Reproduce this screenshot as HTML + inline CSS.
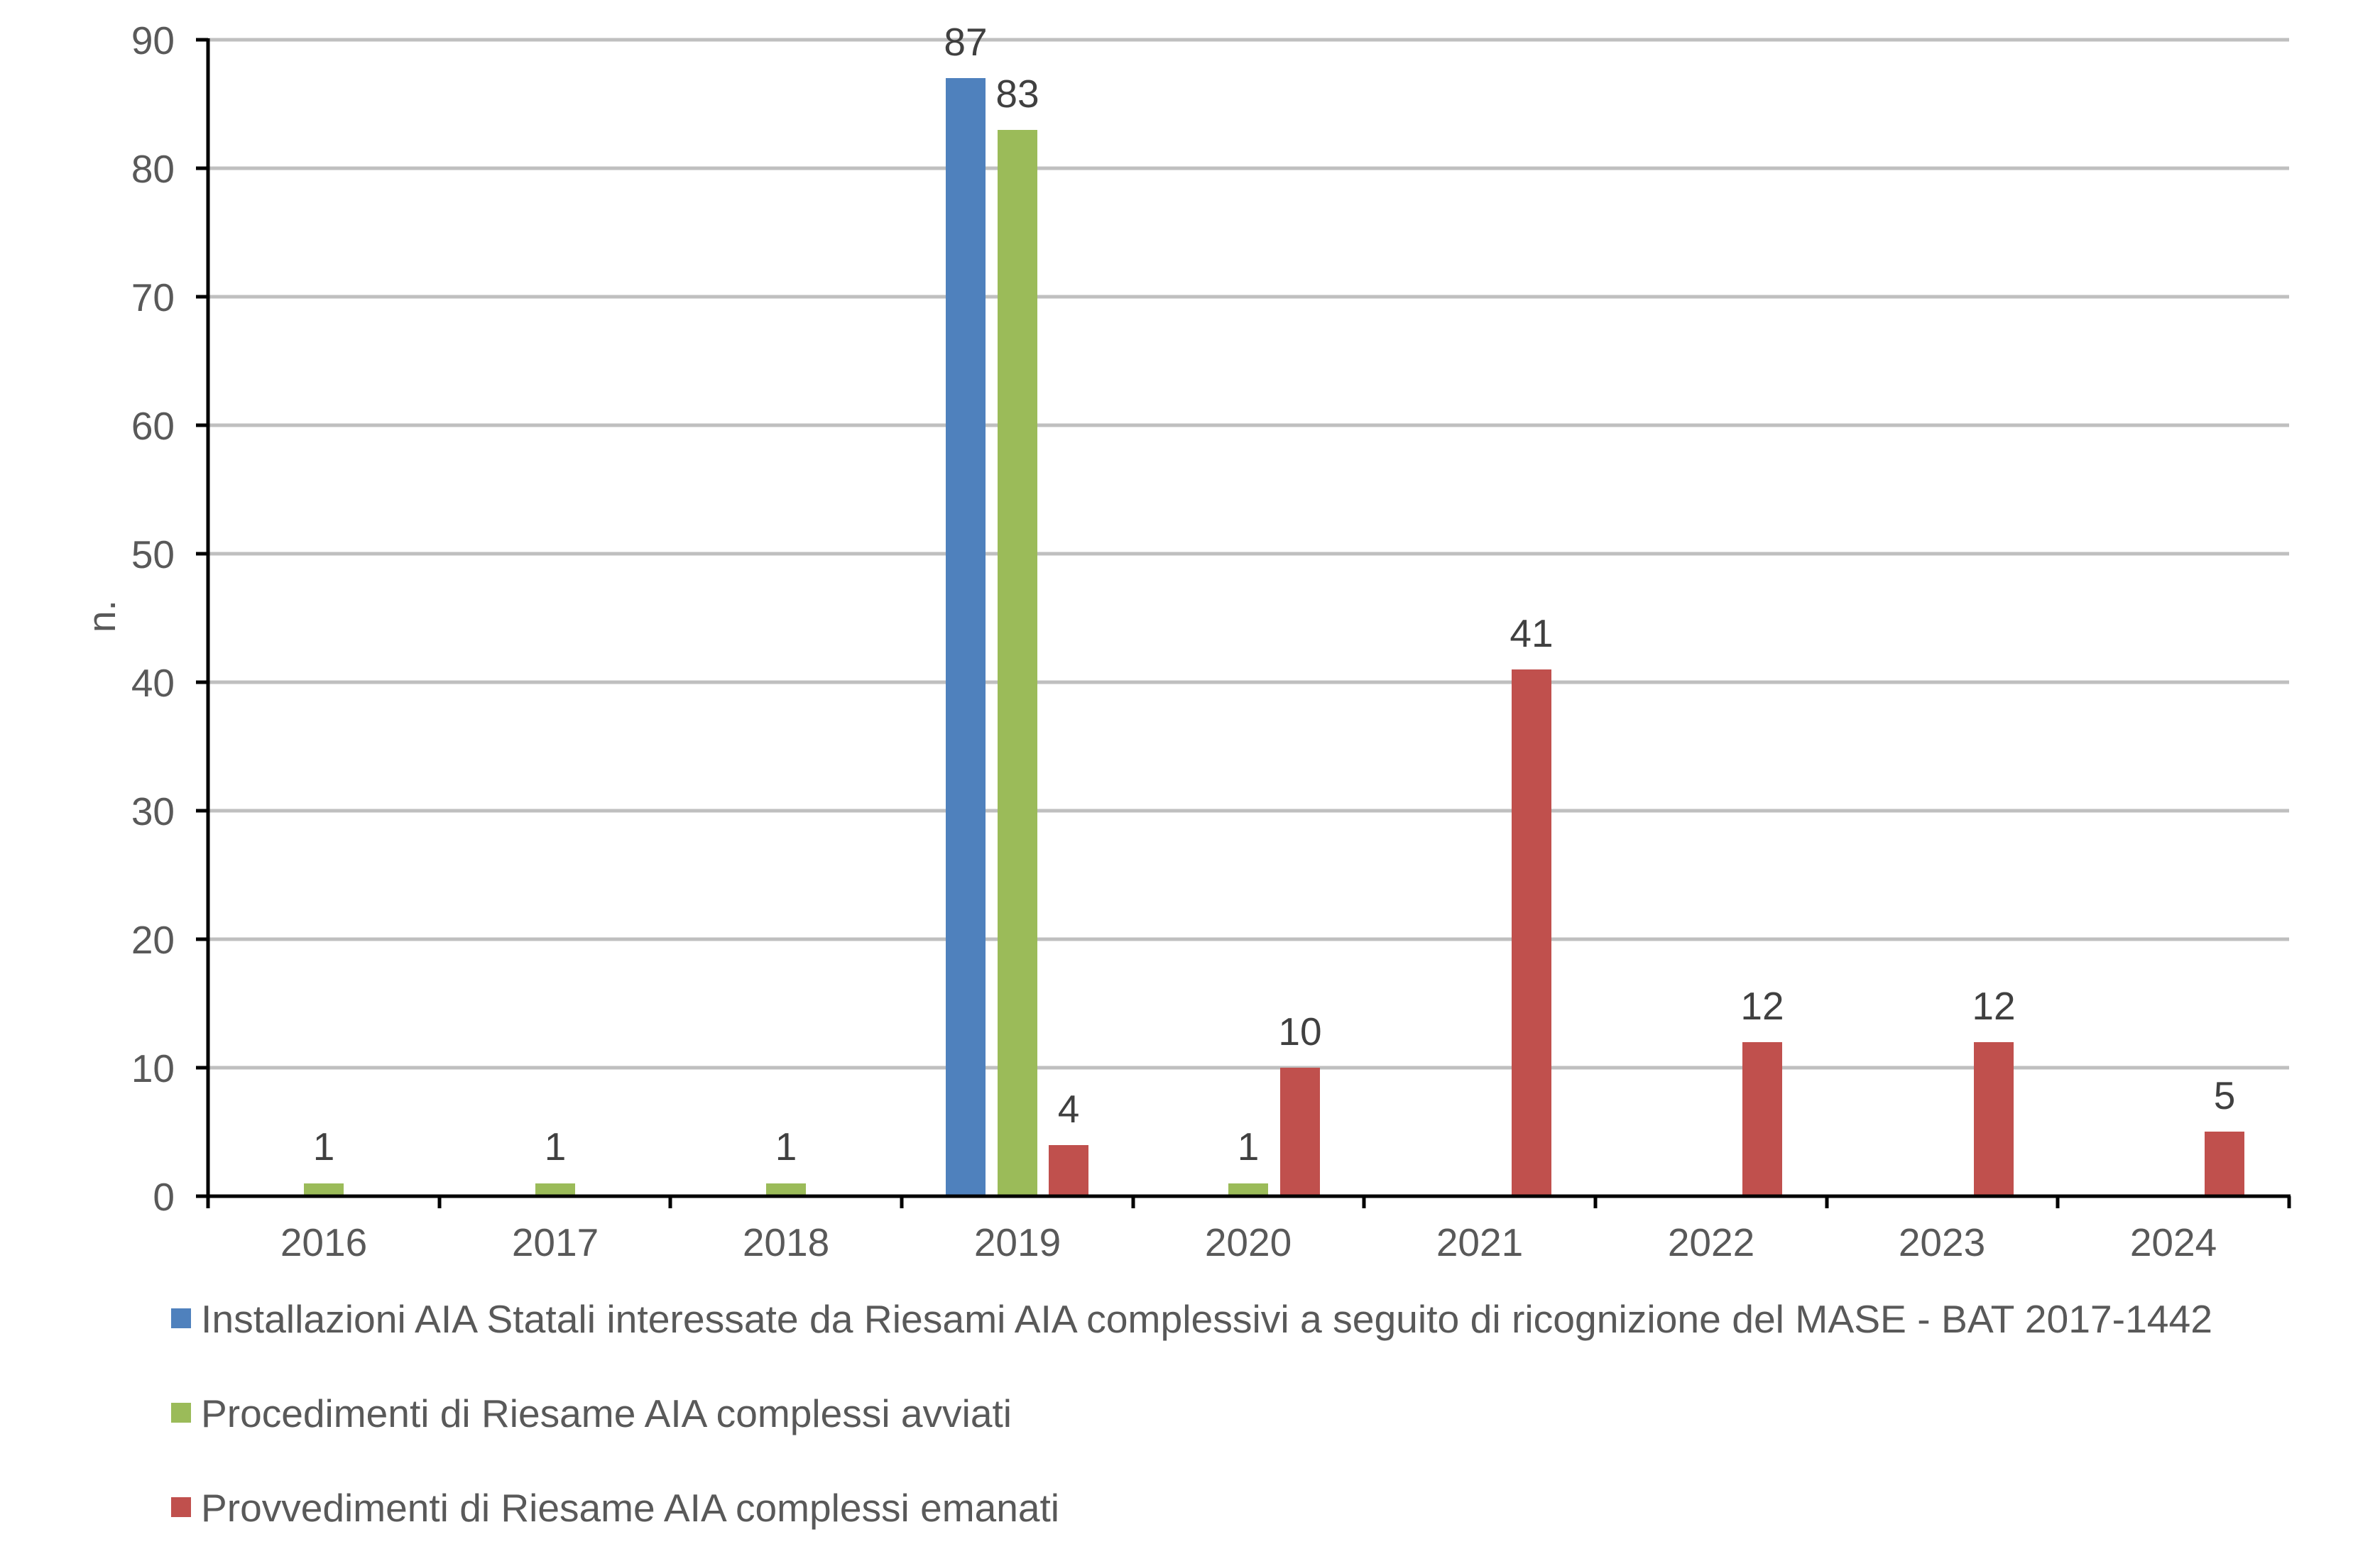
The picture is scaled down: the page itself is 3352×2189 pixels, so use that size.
<!DOCTYPE html>
<html><head><meta charset="utf-8"><style>html,body{margin:0;padding:0;background:#fff}svg{display:block}</style></head>
<body>
<svg width="3352" height="2189" viewBox="0 0 3352 2189" xmlns="http://www.w3.org/2000/svg" font-family="Liberation Sans, Arial, sans-serif">
<rect width="3352" height="2189" fill="#fff"/>
<g stroke="#bfbfbf" stroke-width="5">
<line x1="293" x2="3224" y1="56" y2="56"/>
<line x1="293" x2="3224" y1="237" y2="237"/>
<line x1="293" x2="3224" y1="418" y2="418"/>
<line x1="293" x2="3224" y1="599" y2="599"/>
<line x1="293" x2="3224" y1="780" y2="780"/>
<line x1="293" x2="3224" y1="961" y2="961"/>
<line x1="293" x2="3224" y1="1142" y2="1142"/>
<line x1="293" x2="3224" y1="1323" y2="1323"/>
<line x1="293" x2="3224" y1="1504" y2="1504"/>
</g>
<g>
<rect x="428" y="1667" width="56" height="18" fill="#9bbb59"/>
<rect x="754" y="1667" width="56" height="18" fill="#9bbb59"/>
<rect x="1079" y="1667" width="56" height="18" fill="#9bbb59"/>
<rect x="1332" y="110" width="56" height="1575" fill="#4f81bd"/>
<rect x="1405" y="183" width="56" height="1502" fill="#9bbb59"/>
<rect x="1477" y="1613" width="56" height="72" fill="#c0504d"/>
<rect x="1730" y="1667" width="56" height="18" fill="#9bbb59"/>
<rect x="1803" y="1504" width="56" height="181" fill="#c0504d"/>
<rect x="2129" y="943" width="56" height="742" fill="#c0504d"/>
<rect x="2454" y="1468" width="56" height="217" fill="#c0504d"/>
<rect x="2780" y="1468" width="56" height="217" fill="#c0504d"/>
<rect x="3105" y="1594" width="56" height="91" fill="#c0504d"/>
</g>
<g stroke="#000" stroke-width="5" fill="none">
<line x1="293" y1="54" x2="293" y2="1687"/>
<line x1="291" y1="1685" x2="3226" y2="1685"/>
<line x1="276" y1="56" x2="293" y2="56"/>
<line x1="276" y1="237" x2="293" y2="237"/>
<line x1="276" y1="418" x2="293" y2="418"/>
<line x1="276" y1="599" x2="293" y2="599"/>
<line x1="276" y1="780" x2="293" y2="780"/>
<line x1="276" y1="961" x2="293" y2="961"/>
<line x1="276" y1="1142" x2="293" y2="1142"/>
<line x1="276" y1="1323" x2="293" y2="1323"/>
<line x1="276" y1="1504" x2="293" y2="1504"/>
<line x1="276" y1="1685" x2="293" y2="1685"/>
<line x1="293" y1="1685" x2="293" y2="1702"/>
<line x1="619" y1="1685" x2="619" y2="1702"/>
<line x1="944" y1="1685" x2="944" y2="1702"/>
<line x1="1270" y1="1685" x2="1270" y2="1702"/>
<line x1="1596" y1="1685" x2="1596" y2="1702"/>
<line x1="1921" y1="1685" x2="1921" y2="1702"/>
<line x1="2247" y1="1685" x2="2247" y2="1702"/>
<line x1="2573" y1="1685" x2="2573" y2="1702"/>
<line x1="2898" y1="1685" x2="2898" y2="1702"/>
<line x1="3224" y1="1685" x2="3224" y2="1702"/>
</g>
<g fill="#595959" font-size="55" text-anchor="end">
<text x="246" y="76">90</text>
<text x="246" y="257">80</text>
<text x="246" y="438">70</text>
<text x="246" y="619">60</text>
<text x="246" y="800">50</text>
<text x="246" y="981">40</text>
<text x="246" y="1162">30</text>
<text x="246" y="1343">20</text>
<text x="246" y="1524">10</text>
<text x="246" y="1705">0</text>
</g>
<text transform="translate(162,868) rotate(-90)" fill="#595959" font-size="55" text-anchor="middle">n.</text>
<g fill="#595959" font-size="55" text-anchor="middle">
<text x="456" y="1769">2016</text>
<text x="782" y="1769">2017</text>
<text x="1107" y="1769">2018</text>
<text x="1433" y="1769">2019</text>
<text x="1758" y="1769">2020</text>
<text x="2084" y="1769">2021</text>
<text x="2410" y="1769">2022</text>
<text x="2735" y="1769">2023</text>
<text x="3061" y="1769">2024</text>
</g>
<g fill="#404040" font-size="55" text-anchor="middle">
<text x="456" y="1634">1</text>
<text x="782" y="1634">1</text>
<text x="1107" y="1634">1</text>
<text x="1360" y="78">87</text>
<text x="1433" y="151">83</text>
<text x="1505" y="1581">4</text>
<text x="1758" y="1634">1</text>
<text x="1831" y="1472">10</text>
<text x="2157" y="911">41</text>
<text x="2482" y="1436">12</text>
<text x="2808" y="1436">12</text>
<text x="3133" y="1562">5</text>
</g>
<rect x="241" y="1843" width="28" height="28" fill="#4f81bd"/>
<rect x="241" y="1976" width="28" height="28" fill="#9bbb59"/>
<rect x="241" y="2109" width="28" height="28" fill="#c0504d"/>
<g fill="#595959" font-size="55">
<text x="283" y="1877" textLength="2833" lengthAdjust="spacingAndGlyphs">Installazioni AIA Statali interessate da Riesami AIA complessivi a seguito di ricognizione del MASE - BAT 2017-1442</text>
<text x="283" y="2010" textLength="1142" lengthAdjust="spacingAndGlyphs">Procedimenti di Riesame AIA complessi avviati</text>
<text x="283" y="2143" textLength="1209" lengthAdjust="spacingAndGlyphs">Provvedimenti di Riesame AIA complessi emanati</text>
</g>
</svg>
</body></html>
